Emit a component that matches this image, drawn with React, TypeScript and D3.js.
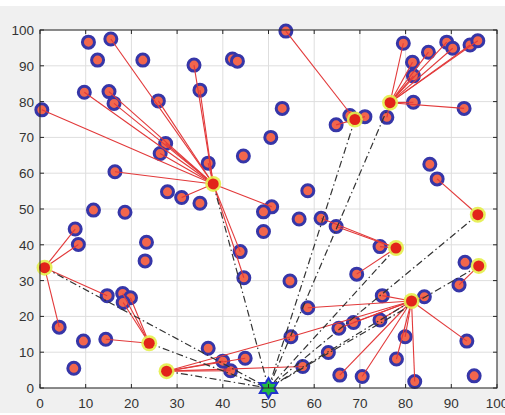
import React from "react";
import * as d3 from "d3";

// Cluster heads [x, y]
const clusterHeads: [number, number][] = [
  [37.9, 57], [68.9, 75], [76.6, 79.7], [1.0, 33.6], [23.9, 12.5],
  [27.7, 4.7], [77.9, 39.1], [81.3, 24.3], [95.8, 48.4], [96.0, 34.1],
];

// Member nodes [x, y, clusterHeadIndex] (-1 = no link)
const members: [number, number, number][] = [
  [15.5, 97.5, 0], [9.7, 82.6, 0], [15.1, 82.8, 0], [16.2, 79.5, 0], [0.4, 77.7, 0],
  [16.4, 60.4, 0], [25.9, 80.2, 0], [27.5, 68.3, 0], [26.3, 65.5, 0], [33.7, 90.2, 0],
  [35.0, 83.2, 0], [36.8, 62.8, 0], [31.0, 53.2, 0], [50.7, 50.6, 0], [43.8, 38.1, 0],
  [44.6, 30.8, 0],
  [53.8, 99.7, 1], [64.8, 73.5, 1], [67.8, 76.1, 1], [71.1, 75.8, 1],
  [79.5, 96.3, 2], [81.5, 91.0, 2], [81.7, 87.2, 2], [85.0, 93.8, 2], [89.0, 96.6, 2],
  [90.3, 94.9, 2], [94.1, 95.8, 2], [95.8, 97.0, 2], [81.7, 79.8, 2], [92.8, 78.1, 2],
  [75.9, 75.6, 2],
  [7.7, 44.4, 3], [8.4, 40.1, 3], [14.7, 25.8, 3], [4.2, 17.0, 3],
  [18.1, 26.4, 4], [19.8, 25.2, 4], [18.2, 23.9, 4], [14.4, 13.6, 4],
  [40.0, 7.5, 5], [41.7, 4.8, 5], [44.9, 8.3, 5], [54.9, 14.3, 5], [57.5, 6.0, 5],
  [74.4, 39.5, 6], [61.5, 47.4, 6], [64.8, 45.1, 6], [69.3, 31.8, 6],
  [58.6, 22.4, 7], [65.4, 16.7, 7], [68.6, 18.3, 7], [74.4, 19.0, 7], [74.9, 25.8, 7],
  [84.1, 25.5, 7], [79.9, 14.3, 7], [78.0, 8.1, 7], [82.0, 1.8, 7], [93.4, 13.1, 7],
  [65.6, 3.6, 7], [70.5, 3.2, 7],
  [86.9, 58.4, 8],
  [91.7, 28.8, 9],
  [10.6, 96.6, -1], [12.6, 91.6, -1], [22.5, 91.6, -1], [42.1, 91.9, -1], [43.2, 91.3, -1],
  [44.5, 64.8, -1], [27.9, 54.8, -1], [35.0, 51.6, -1], [48.9, 49.2, -1], [48.9, 43.7, -1],
  [53.0, 78.1, -1], [50.5, 70.0, -1], [58.6, 55.1, -1], [56.7, 47.2, -1], [54.7, 29.9, -1],
  [85.3, 62.5, -1], [11.7, 49.7, -1], [18.6, 49.1, -1], [23.3, 40.7, -1], [23.0, 35.5, -1],
  [9.5, 13.1, -1], [7.4, 5.5, -1], [36.8, 11.1, -1], [95.0, 3.4, -1], [93.0, 35.1, -1],
  [63.1, 9.9, -1],
];

// Extra member->head links [memberX, memberY, headIndex]
const extraLinks: [number, number, number][] = [[54.9, 14.3, 7]];

const baseStation: [number, number] = [50, 0];
const ticks = [0, 10, 20, 30, 40, 50, 60, 70, 80, 90, 100];

const W = 505, H = 415;
const L = 40, R = 497, T = 30, B = 388;

export default function App() {
  const x = d3.scaleLinear().domain([0, 100]).range([L, R]);
  const y = d3.scaleLinear().domain([0, 100]).range([B, T]);
  const star = d3.symbol().type(d3.symbolStar).size(180)();
  // hexagram path
  const hex = (() => {
    const pts: string[] = [];
    const ro = 10, ri = 5.8;
    for (let i = 0; i < 12; i++) {
      const a = -Math.PI / 2 + (i * Math.PI) / 6;
      const r = i % 2 === 0 ? ro : ri;
      pts.push(`${r * Math.cos(a)},${r * Math.sin(a)}`);
    }
    return "M" + pts.join("L") + "Z";
  })();
  void star;
  const font = "'Liberation Sans', Arial, sans-serif";
  return (
    <svg width={W} height={H} style={{ position: "absolute", left: 0, top: 0 }}>
      <rect x={0} y={0} width={W} height={H} fill="#ffffff" />
      <rect x={0} y={6} width={W} height={407} fill="#f0f0f0" />
      <rect x={L} y={T} width={R - L} height={B - T} fill="#ffffff" />
      {ticks.map((t) => (
        <g key={"g" + t}>
          <line x1={x(t)} x2={x(t)} y1={T} y2={B} stroke="#dedede" strokeWidth={1} />
          <line x1={L} x2={R} y1={y(t)} y2={y(t)} stroke="#dedede" strokeWidth={1} />
        </g>
      ))}
      {/* members */}
      {members.map((m, i) => (
        <circle key={"m" + i} cx={x(m[0])} cy={y(m[1])} r={6} fill="#f2664c" stroke="#3636a8" strokeWidth={3} />
      ))}
      {/* red links */}
      {members.filter((m) => m[2] >= 0).map((m, i) => (
        <line key={"l" + i} x1={x(m[0])} y1={y(m[1])} x2={x(clusterHeads[m[2]][0])} y2={y(clusterHeads[m[2]][1])}
          stroke="#e2393a" strokeWidth={1.1} />
      ))}
      {extraLinks.map((m, i) => (
        <line key={"e" + i} x1={x(m[0])} y1={y(m[1])} x2={x(clusterHeads[m[2]][0])} y2={y(clusterHeads[m[2]][1])}
          stroke="#e2393a" strokeWidth={1.1} />
      ))}
      {/* dash-dot to base station */}
      {clusterHeads.map((c, i) => (
        <line key={"d" + i} x1={x(c[0])} y1={y(c[1])} x2={x(baseStation[0])} y2={y(baseStation[1])}
          stroke="#333333" strokeWidth={1.2} strokeDasharray="7,3,1.5,3" />
      ))}
      {/* cluster heads */}
      {clusterHeads.map((c, i) => (
        <g key={"c" + i}>
          <circle cx={x(c[0])} cy={y(c[1])} r={8} fill="#e4ee4a" opacity={0.9} />
          <circle cx={x(c[0])} cy={y(c[1])} r={5.5} fill="#e2231a" />
        </g>
      ))}
      {/* base station */}
      <path d={hex} transform={`translate(${x(baseStation[0])},${y(baseStation[1])})`} fill="#22bb44" stroke="#2233cc" strokeWidth={2} />
      {/* frame */}
      <rect x={L} y={T} width={R - L} height={B - T} fill="none" stroke="#262626" strokeWidth={1} />
      {ticks.map((t) => (
        <g key={"t" + t}>
          <line x1={x(t)} x2={x(t)} y1={B} y2={B - 4} stroke="#262626" />
          <line x1={x(t)} x2={x(t)} y1={T} y2={T + 4} stroke="#262626" />
          <line x1={L} x2={L + 4} y1={y(t)} y2={y(t)} stroke="#262626" />
          <line x1={R} x2={R - 4} y1={y(t)} y2={y(t)} stroke="#262626" />
          <text x={x(t)} y={B + 20} textAnchor="middle" fontFamily={font} fontSize={13.5} fill="#333">{t}</text>
          <text x={L - 6} y={y(t) + 5} textAnchor="end" fontFamily={font} fontSize={13.5} fill="#333">{t}</text>
        </g>
      ))}
    </svg>
  );
}
